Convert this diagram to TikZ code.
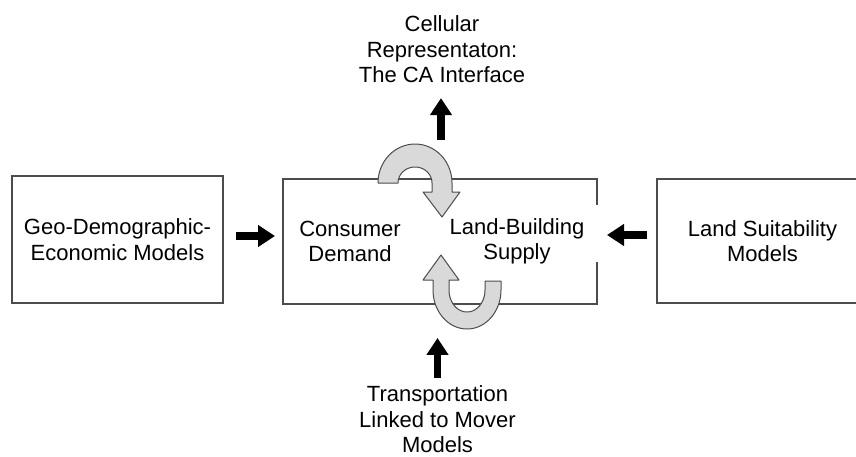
\documentclass[tikz,border=0pt]{standalone}
\usepackage{fontspec}
\setmainfont{Liberation Sans}
\usetikzlibrary{arrows.meta}
\tikzset{
  boxline/.style={draw=black!70, line width=1.3pt},
  modelbox/.style={boxline, inner sep=0pt, outer sep=0pt, align=center},
  lbl/.style={inner sep=0pt, outer sep=0pt, align=center, font=\fontsize{22}{25.5}\selectfont},
  blk/.style={line width=7.5pt, black, -{Triangle[width=21pt,length=17pt]}},
  uturn/.style={fill=black!15, draw=black!70, line width=1pt, line join=round}
}
\begin{document}
\begin{tikzpicture}[x=1pt, y=-1pt]
\clip (0,0) rectangle (856,456);
\fill[white] (0,0) rectangle (856,456);

% boxes
\node[modelbox, lbl, boxline, minimum width=211pt, minimum height=127pt] (geo) at (117.5,239.5) {Geo-Demographic-\\Economic Models};
\node[inner sep=0pt, outer sep=0pt, minimum width=314pt, minimum height=125pt] (core) at (440,241.5) {};
\draw[boxline] ([yshift=-26pt]core.north east) -- (core.north east) -- (core.north west)
  -- (core.south west) -- (core.south east) -- ([yshift=42pt]core.south east);
\node[modelbox, lbl, boxline, minimum width=211pt, minimum height=124pt] (suit) at (762.5,241) {Land Suitability\\Models};

% texts
\node[lbl] (cons) at (350,241.5) {Consumer\\Demand};
\node[lbl] (land) at (517,241.5) {Land-Building\\Supply};
\node[lbl] (ca) at (442,49.5) {Cellular\\Representaton:\\The CA Interface};
\node[lbl] (trans) at (437.5,419.5) {Transportation\\Linked to Mover\\Models};

% gray U-turn arrows
\draw[uturn] (378,183)
  -- plot[domain=180:360, samples=40] ({415+37*cos(\x)},{183+39*sin(\x)})
  -- (452,192) -- (460,192) -- (442,217) -- (423,192) -- (432,192) -- (432,183)
  -- plot[domain=360:180, samples=40] ({415+17*cos(\x)},{183+16*sin(\x)})
  -- cycle;
\draw[uturn] (441,255) -- (459,280) -- (449,280) -- (449,290)
  -- plot[domain=180:0, samples=40] ({467+18*cos(\x)},{290+22*sin(\x)})
  -- (485,281) -- (501,281) -- (501,290)
  -- plot[domain=0:180, samples=40] ({467+34*cos(\x)},{290+39*sin(\x)})
  -- (433,280) -- (423,280) -- cycle;

% black arrows
\coordinate (la) at ([yshift=3.5pt]geo.east);
\draw[blk, shorten <=13pt, shorten >=8pt] (la) -- (la -| core.west);
\coordinate (ra) at ([yshift=6pt]suit.west);
\draw[blk, shorten <=10pt, shorten >=10pt] (ra) -- (ra -| core.east);
\coordinate (topfoot) at (441,140);
\draw[blk, shorten >=15pt] (topfoot) -- (topfoot |- ca.south);
\coordinate (botfoot) at ([yshift=8pt]trans.north);
\draw[blk] (botfoot) -- ++(0,-40);
\end{tikzpicture}
\end{document}
